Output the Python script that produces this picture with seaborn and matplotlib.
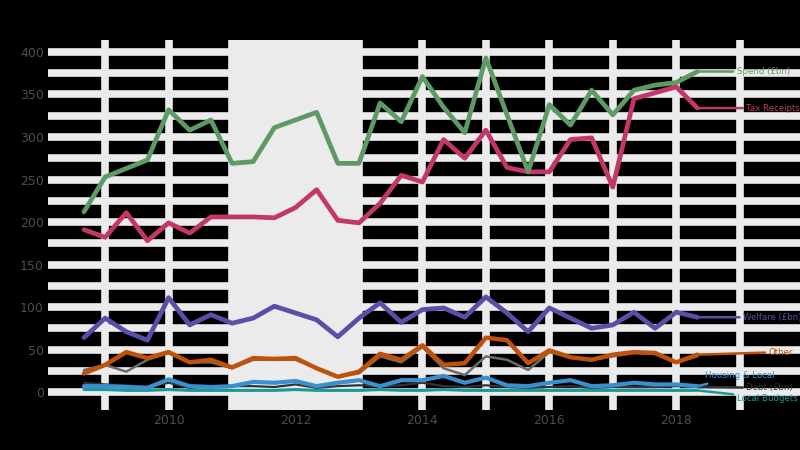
import numpy as np
import pandas as pd
import matplotlib
matplotlib.use("Agg")
import matplotlib.pyplot as plt
from matplotlib.ticker import MultipleLocator
import seaborn as sns

# periods (every four months, Sept 2008 .. May 2018)
dates = pd.date_range("2008-09-01", periods=30, freq="4MS")
years = dates.year + (dates.month - 1) / 12

total_spend = [212, 253, 263, 273, 332, 308, 320, 269, 271, 311, 320, 329, 269, 269, 340,
               318, 371, 335, 305, 393, 326, 259, 338, 314, 355, 326, 355, 361, 364, 377]
receipts = [191, 182, 211, 178, 199, 187, 206, 206, 206, 205, 217, 238, 202, 199, 222,
            255, 247, 297, 275, 308, 264, 259, 259, 297, 299, 241, 345, 352, 359, 334]
welfare = [64, 87, 71, 61, 111, 79, 91, 81, 87, 101, 93, 85, 65, 87, 105,
           82, 97, 99, 88, 112, 93, 71, 99, 87, 75, 79, 94, 75, 94, 88]
other = [22, 32, 47, 40, 47, 35, 38, 29, 40, 39, 40, 28, 18, 24, 45,
         38, 55, 32, 34, 64, 61, 34, 49, 41, 38, 44, 47, 46, 35, 44]
misc = [26, 32, 24, 38, 46, 35, 35, 28, 38, 38, 38, 28, 18, 22, 42,
        35, 53, 28, 20, 42, 38, 26, 47, 41, 38, 42, 46, 45, 35, 42]
housing = [7, 7, 6, 5, 15, 7, 6, 7, 12, 11, 13, 7, 11, 14, 7,
           14, 14, 19, 11, 17, 8, 7, 11, 14, 7, 8, 11, 9, 9, 7]
debt_cost = [11, 9, 8, 6, 11, 5, 7, 7, 7, 6, 9, 5, 7, 8, 7,
             8, 11, 7, 6, 8, 6, 5, 6, 7, 5, 6, 6, 6, 7, 6]
local = [3, 3, 2, 2, 3, 2, 2, 2, 2, 2, 3, 2, 2, 2, 3,
         2, 2, 3, 2, 2, 2, 2, 2, 2, 2, 2, 2, 2, 2, 2]

tick_years = [2010, 2012, 2014, 2016, 2018]
shade_start, shade_end = 2011, 2013

# name, values, colour, width, label position (x, y) or None
series = [
    ("Other spending", misc, "#6b6b6b", 1.8, None),
    ("Local Budgets", local, "#1a9a94", 2.2, (2018.95, -7)),
    ("Debt (£bn)", debt_cost, "#333333", 1.6, (2019.1, 5)),
    ("Housing & Local", housing, "#3a8fd0", 3.0, (2018.45, 19)),
    ("Other", other, "#c0500a", 3.2, (2019.45, 47)),
    ("Welfare (£bn)", welfare, "#5a4ea6", 3.4, (2019.05, 88)),
    ("Tax Receipts", receipts, "#c2366b", 3.4, (2019.1, 334)),
    ("Spend (£bn)", total_spend, "#5e9a66", 3.4, (2018.95, 377)),
]

sns.set_theme(style="white")
plt.rcParams["font.family"] = ["DejaVu Sans"]

fig = plt.figure(figsize=(8, 4.5), dpi=100, facecolor="black")
ax = fig.add_axes([0.06, 0.089, 0.94, 0.822])
ax.set_facecolor("black")

ax.axvspan(shade_start, shade_end, color="#ebebeb", lw=0, zorder=1)

for name, vals, col, lw, pos in series:
    sns.lineplot(x=years, y=vals, color=col, linewidth=lw, ax=ax, zorder=3)
    if pos is not None:
        ax.annotate(name, xy=(years[-1], vals[-1]), xytext=pos,
                    color=col, fontsize=6.2, va="center", ha="left",
                    arrowprops=dict(arrowstyle="-", color=col, lw=1.8,
                                    shrinkA=0, shrinkB=1),
                    zorder=4)

ax.set_xlim(2008.1, 2019.95)
ax.set_ylim(-21, 414)
ax.xaxis.set_major_locator(plt.FixedLocator(tick_years))
ax.xaxis.set_minor_locator(MultipleLocator(1))
ax.yaxis.set_major_locator(MultipleLocator(50))
ax.yaxis.set_minor_locator(MultipleLocator(25))
ax.set_xticklabels([str(y) for y in tick_years])
ax.grid(which="both", color="#ebebeb", linewidth=5.5)
ax.set_axisbelow(True)
ax.tick_params(which="both", length=0, labelsize=9, colors="#4d4d4d", pad=3)
for s in ax.spines.values():
    s.set_visible(False)
ax.set_xlabel("")
ax.set_ylabel("")

fig.savefig("out.png", dpi=100, facecolor="black")
